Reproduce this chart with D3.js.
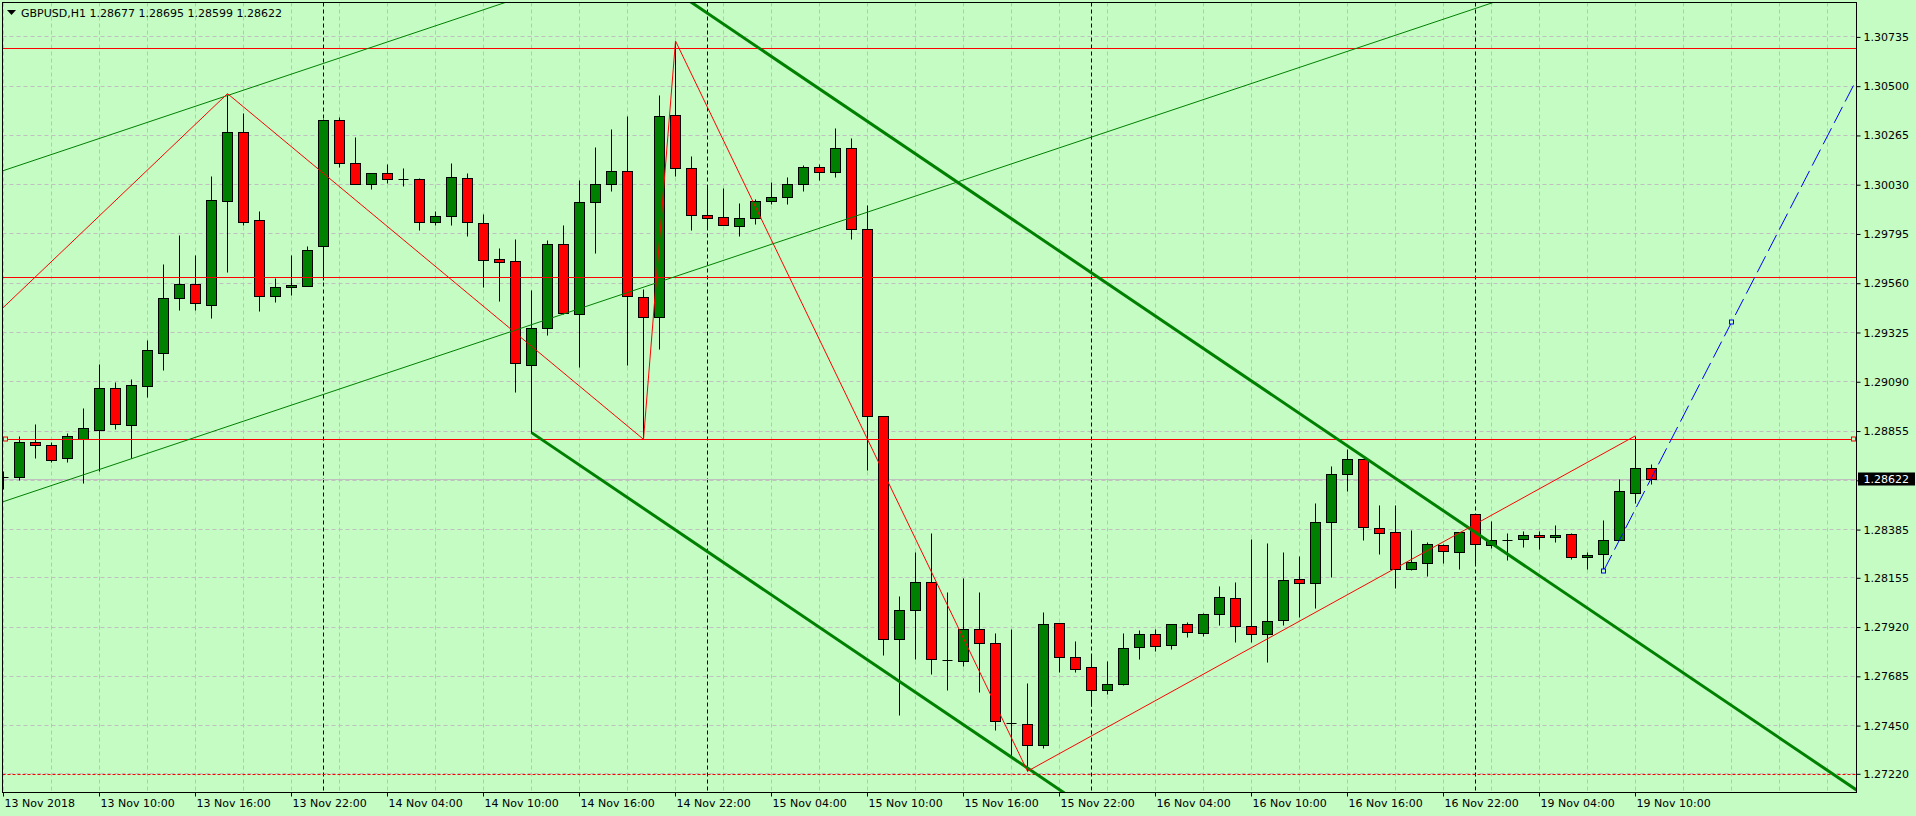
<!DOCTYPE html>
<html>
<head>
<meta charset="utf-8">
<script src="https://cdn.jsdelivr.net/npm/d3@7"></script>
<style>
  body { margin: 0; background: #c4fcc4; }
  svg { display: block; }
</style>
</head>
<body>
<script>
'use strict';

// ---- data (GBPUSD, H1, bar 0 = 13 Nov 04:00) ----
const title = "GBPUSD,H1  1.28677 1.28695 1.28599 1.28622";

const opens = [1.28634,1.28634,1.28799,1.28784,1.28723,1.28816,1.28859,1.29060,1.28883,1.29069,
  1.29227,1.29486,1.29552,1.29455,1.29951,1.30277,1.29857,1.29495,1.29539,1.29546,
  1.29736,1.30334,1.30133,1.30033,1.30082,1.30053,1.30053,1.29851,1.29876,1.30059,
  1.29847,1.29674,1.29662,1.29169,1.29343,1.29743,1.29409,1.29943,1.30033,1.30091,
  1.29491,1.29396,1.30358,1.30106,1.29881,1.29873,1.29832,1.29868,1.29948,1.29968,
  1.30029,1.30110,1.30086,1.30203,1.29815,1.28922,1.27862,1.27997,1.28131,1.27760,
  1.27758,1.27910,1.27842,1.27460,1.27457,1.27353,1.27935,1.27773,1.27725,1.27619,
  1.27645,1.27822,1.27886,1.27830,1.27930,1.27890,1.27978,1.28054,1.27925,1.27885,
  1.27949,1.28145,1.28126,1.28417,1.28646,1.28717,1.28388,1.28369,1.28193,1.28221,
  1.28307,1.28274,1.28455,1.28307,1.28332,1.28336,1.28355,1.28345,1.28360,1.28250,
  1.28264,1.28331,1.28555,1.28677];

const highs = [1.28660,1.28827,1.28886,1.28799,1.28843,1.28963,1.29174,1.29086,1.29099,1.29287,
  1.29648,1.29788,1.29692,1.30069,1.30462,1.30372,1.29900,1.29583,1.29692,1.29733,
  1.30343,1.30350,1.30255,1.30082,1.30127,1.30108,1.30060,1.29902,1.30133,1.30082,
  1.29888,1.29726,1.29769,1.29523,1.29764,1.29835,1.30048,1.30207,1.30294,1.30355,
  1.29532,1.30456,1.30713,1.30164,1.30021,1.30014,1.29941,1.29960,1.30040,1.30065,
  1.30122,1.30127,1.30298,1.30251,1.29929,1.28922,1.28065,1.28275,1.28366,1.28085,
  1.28151,1.28085,1.27888,1.27910,1.27650,1.27988,1.27935,1.27851,1.27778,1.27754,
  1.27888,1.27902,1.27910,1.27930,1.27940,1.27987,1.28112,1.28131,1.28337,1.28318,
  1.28275,1.28256,1.28509,1.28685,1.28767,1.28717,1.28499,1.28499,1.28380,1.28321,
  1.28312,1.28369,1.28455,1.28423,1.28366,1.28374,1.28374,1.28404,1.28367,1.28274,
  1.28426,1.28623,1.28830,1.28695];

const lows = [1.28574,1.28617,1.28724,1.28704,1.28706,1.28605,1.28663,1.28864,1.28724,1.29016,
  1.29145,1.29432,1.29432,1.29394,1.29611,1.29833,1.29426,1.29467,1.29503,1.29546,
  1.29571,1.30113,1.30033,1.30009,1.30036,1.30023,1.29813,1.29835,1.29835,1.29784,
  1.29540,1.29472,1.29039,1.28845,1.29312,1.29409,1.29159,1.29704,1.29999,1.29169,
  1.28813,1.29244,1.30070,1.29813,1.29823,1.29837,1.29784,1.29842,1.29934,1.29937,
  1.29999,1.30052,1.30065,1.29770,1.28666,1.27786,1.27499,1.27764,1.27694,1.27617,
  1.27732,1.27608,1.27427,1.27298,1.27230,1.27343,1.27705,1.27705,1.27539,1.27599,
  1.27639,1.27765,1.27804,1.27814,1.27871,1.27876,1.27927,1.27847,1.27847,1.27752,
  1.27928,1.27966,1.28009,1.28157,1.28568,1.28334,1.28267,1.28105,1.28188,1.28162,
  1.28224,1.28195,1.28224,1.28293,1.28236,1.28300,1.28289,1.28324,1.28240,1.28195,
  1.28185,1.28331,1.28510,1.28599];

const closes = [1.28634,1.28799,1.28784,1.28716,1.28827,1.28866,1.29057,1.28888,1.29070,1.29237,
  1.29486,1.29552,1.29465,1.29953,1.30277,1.29851,1.29499,1.29539,1.29549,1.29714,
  1.30334,1.30133,1.30033,1.30082,1.30053,1.30053,1.29851,1.29876,1.30062,1.29851,
  1.29670,1.29660,1.29176,1.29343,1.29743,1.29414,1.29943,1.30029,1.30091,1.29495,
  1.29396,1.30355,1.30106,1.29885,1.29871,1.29837,1.29868,1.29948,1.29968,1.30029,
  1.30110,1.30086,1.30203,1.29815,1.28922,1.27862,1.27997,1.28131,1.27767,1.27760,
  1.27910,1.27842,1.27468,1.27460,1.27353,1.27930,1.27773,1.27716,1.27616,1.27648,
  1.27820,1.27886,1.27826,1.27930,1.27895,1.27978,1.28059,1.27923,1.27885,1.27945,
  1.28140,1.28126,1.28417,1.28646,1.28717,1.28393,1.28364,1.28193,1.28226,1.28312,
  1.28278,1.28369,1.28312,1.28331,1.28332,1.28355,1.28345,1.28355,1.28250,1.28262,
  1.28331,1.28565,1.28677,1.28622];

const lastPrice = 1.28622;

// price axis labels
const priceTicks = ["1.30735","1.30500","1.30265","1.30030","1.29795","1.29560","1.29325","1.29090",
  "1.28855","1.28620","1.28385","1.28155","1.27920","1.27685","1.27450","1.27220"];

// time axis labels, one every 6 bars
const timeBars = [0,6,12,18,24,30,36,42,48,54,60,66,72,78,84,90,96,102];
const timeLabels = ["13 Nov 2018","13 Nov 10:00","13 Nov 16:00","13 Nov 22:00","14 Nov 04:00",
  "14 Nov 10:00","14 Nov 16:00","14 Nov 22:00","15 Nov 04:00","15 Nov 10:00","15 Nov 16:00",
  "15 Nov 22:00","16 Nov 04:00","16 Nov 10:00","16 Nov 16:00","16 Nov 22:00","19 Nov 04:00",
  "19 Nov 10:00"];

// day separators (00:00 bars)
const dayBars = [20, 44, 68, 92];

// drawn objects: [bar, price]
const zigzag = [[-1,1.29370],[14,1.30462],[40,1.28813],[42,1.30713],[64,1.27230],[102,1.28830]];
const hLines = [1.30679, 1.29585, 1.28813];
const hDashed = [1.27219];
const thinUpper = [[0,1.30095],[100,1.32652]];
const thinLower = [[0,1.28516],[100,1.31073]];
const thickUpper = [[43,1.30897],[112,1.27337]];
const thickLower = [[33,1.28845],[64,1.27245]];
const blueRay = [[100,1.28185],[108,1.29371]];

// ---- layout ----
const W = 1916, H = 816;
const BG = "#c4fcc4";
const L = 2.5, T = 2.5, R = 1856.5, B = 792.5;

const svg = d3.select('body').append('svg')
  .attr('width', W)
  .attr('height', H)
  .style('font-family', '"DejaVu Sans", sans-serif');

svg.append('rect').attr('width', W).attr('height', H).attr('fill', BG);

svg.append('clipPath').attr('id', 'plot')
  .append('rect').attr('x', L + 0.5).attr('y', T + 0.5).attr('width', R - L - 1).attr('height', B - T - 1);

const x = d3.scaleLinear().domain([0, 103]).range([3.5, 1651.5]);
const y = d3.scaleLinear().domain([1.30735, 1.27220]).range([36.4, 773.3]);
const py = v => Math.round(y(v)) + 0.5;

const plot = svg.append('g').attr('clip-path', 'url(#plot)');

// grid
plot.selectAll('.vgrid')
  .data(d3.range(0, 116, 3))
  .enter().append('line')
  .attr('x1', d => x(d)).attr('x2', d => x(d))
  .attr('y1', T).attr('y2', B)
  .attr('stroke', '#c0c0c0').attr('stroke-dasharray', '4,3');

plot.selectAll('.hgrid')
  .data(priceTicks)
  .enter().append('line')
  .attr('x1', L).attr('x2', R)
  .attr('y1', d => py(+d)).attr('y2', d => py(+d))
  .attr('stroke', '#c0c0c0').attr('stroke-dasharray', '4,3');

// day separators
plot.selectAll('.sep')
  .data(dayBars)
  .enter().append('line')
  .attr('x1', d => x(d)).attr('x2', d => x(d))
  .attr('y1', T).attr('y2', B)
  .attr('stroke', '#000').attr('stroke-dasharray', '4,3');

// bid line
plot.append('line')
  .attr('x1', L).attr('x2', R)
  .attr('y1', py(lastPrice)).attr('y2', py(lastPrice))
  .attr('stroke', '#c0c0c0');

// candles
const bars = d3.range(opens.length);

plot.selectAll('.wick')
  .data(bars)
  .enter().append('line')
  .attr('x1', i => x(i)).attr('x2', i => x(i))
  .attr('y1', i => py(highs[i])).attr('y2', i => py(lows[i]))
  .attr('stroke', '#000');

const bodies = bars.filter(i => opens[i] !== closes[i]);
plot.selectAll('.body')
  .data(bodies)
  .enter().append('rect')
  .attr('x', i => x(i) - 5)
  .attr('width', 10)
  .attr('y', i => py(Math.max(opens[i], closes[i])))
  .attr('height', i => Math.max(1, py(Math.min(opens[i], closes[i])) - py(Math.max(opens[i], closes[i]))))
  .attr('fill', i => closes[i] > opens[i] ? '#008000' : '#ff0000')
  .attr('stroke', '#000');

plot.selectAll('.doji')
  .data(bars.filter(i => opens[i] === closes[i]))
  .enter().append('line')
  .attr('x1', i => x(i) - 5).attr('x2', i => x(i) + 5)
  .attr('y1', i => py(opens[i])).attr('y2', i => py(opens[i]))
  .attr('stroke', '#000');

// objects
const line = d3.line().x(d => x(d[0])).y(d => y(d[1]));

function extend(p, from, to) {
  const k = (p[1][1] - p[0][1]) / (p[1][0] - p[0][0]);
  return [[from, p[0][1] + k * (from - p[0][0])], [to, p[0][1] + k * (to - p[0][0])]];
}

plot.selectAll('.hline')
  .data(hLines)
  .enter().append('line')
  .attr('x1', L).attr('x2', R)
  .attr('y1', d => py(d)).attr('y2', d => py(d))
  .attr('stroke', '#ff0000');

plot.selectAll('.hdash')
  .data(hDashed)
  .enter().append('line')
  .attr('x1', L).attr('x2', R)
  .attr('y1', d => py(d)).attr('y2', d => py(d))
  .attr('stroke', '#ff0000').attr('stroke-dasharray', '3,2');

[thinUpper, thinLower].forEach(p => {
  plot.append('path').attr('d', line(extend(p, -5, 120)))
    .attr('fill', 'none').attr('stroke', '#008000').attr('stroke-width', 1);
});

plot.append('path').attr('d', line(extend(thickUpper, -5, 120)))
  .attr('fill', 'none').attr('stroke', '#008000').attr('stroke-width', 3);
plot.append('path').attr('d', line(extend(thickLower, thickLower[0][0], 120)))
  .attr('fill', 'none').attr('stroke', '#008000').attr('stroke-width', 3);

plot.append('path').attr('d', line(zigzag))
  .attr('fill', 'none').attr('stroke', '#ff0000').attr('stroke-width', 1);

plot.append('path').attr('d', line(extend(blueRay, blueRay[0][0], 120)))
  .attr('fill', 'none').attr('stroke', '#0000ff').attr('stroke-width', 1)
  .attr('stroke-dasharray', '18,6');

// object anchor markers
plot.selectAll('.bmark')
  .data(blueRay)
  .enter().append('rect')
  .attr('x', d => Math.round(x(d[0])) - 2.5).attr('y', d => py(d[1]) - 2.5)
  .attr('width', 4).attr('height', 4)
  .attr('fill', BG).attr('stroke', '#0000ff');

svg.selectAll('.rmark')
  .data([L + 3, R - 3])
  .enter().append('rect')
  .attr('x', d => Math.round(d) - 2.5).attr('y', py(hLines[2]) - 2.5)
  .attr('width', 4).attr('height', 4)
  .attr('fill', BG).attr('stroke', '#ff0000');

// frame
svg.append('rect')
  .attr('x', L).attr('y', T).attr('width', R - L).attr('height', B - T)
  .attr('fill', 'none').attr('stroke', '#000');

// price axis
const yAxis = d3.axisRight(y)
  .tickValues(priceTicks.map(Number))
  .tickFormat((d, i) => priceTicks[i])
  .tickSize(4);

const yg = svg.append('g').attr('transform', `translate(${R},0.5)`).call(yAxis);
yg.select('.domain').remove();
yg.selectAll('text').attr('fill', '#000').style('font-size', '11px')
  .style('font-family', '"DejaVu Sans", sans-serif');
yg.selectAll('line').attr('stroke', '#000');

// time axis
const xAxis = d3.axisBottom(x)
  .tickValues(timeBars)
  .tickFormat((d, i) => timeLabels[i])
  .tickSize(4);

const xg = svg.append('g').attr('transform', `translate(-0.5,${B})`).call(xAxis);
xg.select('.domain').remove();
xg.selectAll('text').attr('fill', '#000').attr('text-anchor', 'start').attr('x', 1)
  .style('font-size', '11px').style('font-family', '"DejaVu Sans", sans-serif');
xg.selectAll('line').attr('stroke', '#000');

// current price box
const cy = py(lastPrice);
svg.append('rect')
  .attr('x', R + 1.5).attr('y', cy - 7)
  .attr('width', 57).attr('height', 13)
  .attr('fill', '#000');
svg.append('text')
  .attr('x', R + 7).attr('y', cy)
  .attr('dy', '0.35em')
  .attr('fill', '#fff')
  .style('font-size', '11px')
  .text(d3.format('.5f')(lastPrice));

// title
svg.append('path')
  .attr('d', d3.line()([[7, 10], [16, 10], [11.5, 15]]) + 'Z')
  .attr('fill', '#000');
svg.append('text')
  .attr('x', 21).attr('y', 17)
  .attr('fill', '#000')
  .style('font-size', '11px')
  .text(title);
</script>
</body>
</html>
